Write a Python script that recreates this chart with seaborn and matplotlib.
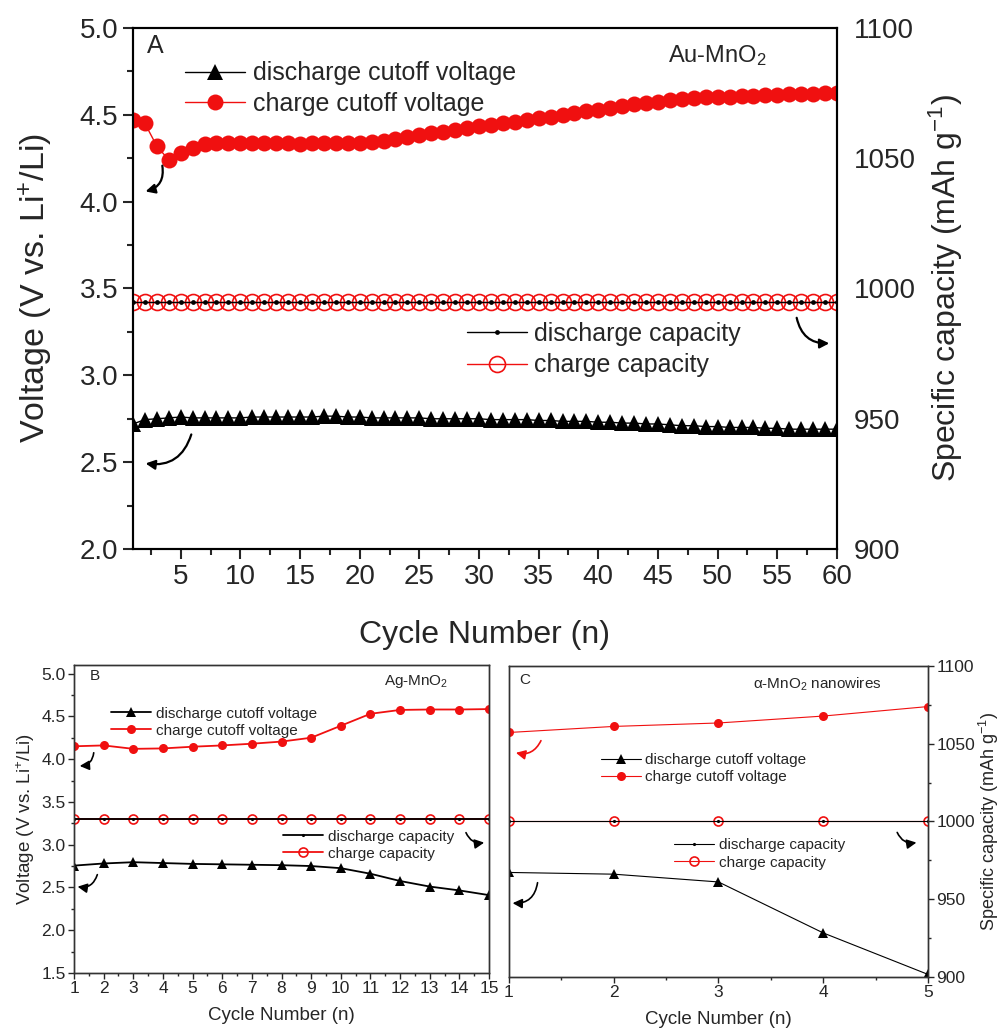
import matplotlib
matplotlib.use("Agg")
import matplotlib.pyplot as plt
from matplotlib.ticker import MultipleLocator
import seaborn as sns

# ---- panel A: Au-MnO2, 60 cycles ----
cycles_a = list(range(1, 61))
charge_cutoff_a = [
    4.47, 4.45, 4.32, 4.24, 4.28, 4.31, 4.33, 4.34, 4.34, 4.34,
    4.34, 4.34, 4.335, 4.335, 4.33, 4.335, 4.335, 4.34, 4.34, 4.34,
    4.345, 4.35, 4.36, 4.37, 4.385, 4.395, 4.40, 4.41, 4.425, 4.435,
    4.44, 4.45, 4.46, 4.47, 4.48, 4.49, 4.50, 4.51, 4.52, 4.53,
    4.54, 4.55, 4.56, 4.57, 4.575, 4.585, 4.59, 4.595, 4.60, 4.60,
    4.605, 4.61, 4.61, 4.615, 4.615, 4.62, 4.62, 4.62, 4.625, 4.625,
]
discharge_cutoff_a = [
    2.72, 2.745, 2.75, 2.755, 2.76, 2.755, 2.755, 2.755, 2.755, 2.755,
    2.76, 2.76, 2.76, 2.76, 2.76, 2.76, 2.765, 2.765, 2.76, 2.76,
    2.755, 2.755, 2.755, 2.755, 2.755, 2.75, 2.75, 2.75, 2.75, 2.75,
    2.745, 2.745, 2.745, 2.745, 2.74, 2.74, 2.735, 2.735, 2.735, 2.73,
    2.73, 2.725, 2.725, 2.72, 2.72, 2.715, 2.71, 2.71, 2.705, 2.705,
    2.70, 2.70, 2.70, 2.695, 2.695, 2.69, 2.69, 2.69, 2.69, 2.69,
]
discharge_capacity_a = [995] * 60
charge_capacity_a = [995] * 60

# ---- panel B: Ag-MnO2, 15 cycles ----
cycles_b = list(range(1, 16))
charge_cutoff_b = [4.15, 4.16, 4.12, 4.125, 4.145, 4.16, 4.18, 4.205, 4.25,
                   4.39, 4.53, 4.575, 4.58, 4.58, 4.585]
discharge_cutoff_b = [2.755, 2.78, 2.795, 2.785, 2.775, 2.77, 2.765, 2.76, 2.75,
                      2.725, 2.66, 2.575, 2.51, 2.465, 2.41]
discharge_capacity_b = [1000] * 15
charge_capacity_b = [1000] * 15

# ---- panel C: alpha-MnO2 nanowires, 5 cycles ----
cycles_c = [1, 2, 3, 4, 5]
charge_cutoff_c = [4.33, 4.40, 4.44, 4.52, 4.63]
discharge_cutoff_c = [2.71, 2.69, 2.60, 2.01, 1.53]
discharge_capacity_c = [1000] * 5
charge_capacity_c = [1000] * 5

RED = "#f01010"

sns.set_theme(style="ticks")
plt.rcParams["font.family"] = ["Liberation Sans", "DejaVu Sans"]
plt.rcParams["mathtext.fontset"] = "custom"
plt.rcParams["mathtext.rm"] = "Liberation Sans"
plt.rcParams["mathtext.it"] = "Liberation Sans:italic"
plt.rcParams["mathtext.default"] = "regular"

fig = plt.figure(figsize=(9.99, 10.32), dpi=100)
ax_a = fig.add_axes([0.1331, 0.4680, 0.7047, 0.5049])
ax_b = fig.add_axes([0.0741, 0.0572, 0.4154, 0.2984])
ax_c = fig.add_axes([0.5095, 0.0533, 0.4194, 0.3014])


def draw_panel(ax, x, charge, discharge, dcap, ccap, ms, lw, dot=0.35):
    """Draw the four series of one panel; returns twin axis and line handles."""
    ax2 = ax.twinx()
    sns.lineplot(x=x, y=discharge, ax=ax, color="black", marker="^", markersize=ms,
                 markeredgewidth=0, linewidth=lw, legend=False)
    h_dv = ax.lines[-1]
    sns.lineplot(x=x, y=charge, ax=ax, color=RED, marker="o", markersize=ms,
                 markeredgewidth=0, linewidth=lw, legend=False)
    h_cv = ax.lines[-1]
    sns.lineplot(x=x, y=ccap, ax=ax2, color=RED, marker="o", markersize=ms,
                 markerfacecolor="none", markeredgecolor=RED, markeredgewidth=1.2,
                 linewidth=lw, legend=False)
    h_cc = ax2.lines[-1]
    sns.lineplot(x=x, y=dcap, ax=ax2, color="black", marker="o", markersize=ms * dot,
                 markeredgewidth=0, linewidth=lw, legend=False)
    h_dc = ax2.lines[-1]
    return ax2, (h_dv, h_cv), (h_dc, h_cc)


def arrow(ax, start, end, rad, color="black", lw=1.6):
    ax.annotate("", xy=end, xytext=start, xycoords="axes fraction",
                textcoords="axes fraction",
                arrowprops=dict(arrowstyle="-|>", color=color, lw=lw,
                                mutation_scale=14,
                                connectionstyle=f"arc3,rad={rad}"))


# ---------------- panel A ----------------
ax2_a, hv, hc = draw_panel(ax_a, cycles_a, charge_cutoff_a, discharge_cutoff_a,
                           discharge_capacity_a, charge_capacity_a, 11.5, 1.0, dot=0.3)
ax_a.set_xlim(1, 60)
ax_a.set_ylim(2.0, 5.0)
ax2_a.set_ylim(900, 1100)
ax_a.xaxis.set_major_locator(MultipleLocator(5))
ax_a.xaxis.set_minor_locator(MultipleLocator(2.5))
ax_a.yaxis.set_major_locator(MultipleLocator(0.5))
ax_a.yaxis.set_minor_locator(MultipleLocator(0.25))
ax2_a.yaxis.set_major_locator(MultipleLocator(50))
ax_a.set_xticks([5, 10, 15, 20, 25, 30, 35, 40, 45, 50, 55, 60])
ax_a.tick_params(axis="both", which="major", labelsize=20, direction="out",
                 length=7, width=1.5, right=False, top=False)
ax_a.tick_params(axis="both", which="minor", direction="out", length=4, width=1.5,
                 right=False, top=False)
ax2_a.tick_params(axis="y", which="both", labelsize=20, length=0, pad=12)
ax_a.set_xlabel("Cycle Number (n)", fontsize=23, labelpad=22)
ax_a.set_ylabel("Voltage (V vs. Li$^{+}$/Li)", fontsize=24.5, labelpad=18)
ax2_a.set_ylabel("Specific capacity (mAh g$^{-1}$)", fontsize=23, labelpad=8)
for a in (ax_a, ax2_a):
    for s in a.spines.values():
        s.set_linewidth(1.5)
        s.set_color("black")
ax_a.text(0.02, 0.965, "A", transform=ax_a.transAxes, fontsize=18,
          ha="left", va="center")
ax_a.text(0.83, 0.948, "Au-MnO$_2$", transform=ax_a.transAxes, fontsize=17,
          ha="center", va="center")
leg1 = ax2_a.legend(hv, ["discharge cutoff voltage", "charge cutoff voltage"],
                    loc="upper left", bbox_to_anchor=(0.06, 0.955), frameon=False,
                    fontsize=18, handlelength=2.4, handletextpad=0.3,
                    labelspacing=0.25, borderaxespad=0)
ax2_a.add_artist(leg1)
ax2_a.legend(hc, ["discharge capacity", "charge capacity"], loc="upper left",
             bbox_to_anchor=(0.46, 0.455), frameon=False, fontsize=18,
             handlelength=2.4, handletextpad=0.3, labelspacing=0.3,
             borderaxespad=0)
arrow(ax_a, (0.041, 0.741), (0.014, 0.685), -0.5)
arrow(ax_a, (0.084, 0.225), (0.014, 0.165), -0.45)
arrow(ax_a, (0.942, 0.449), (0.993, 0.395), 0.45)

# ---------------- panel B ----------------
ax2_b, hv, hc = draw_panel(ax_b, cycles_b, charge_cutoff_b, discharge_cutoff_b,
                           discharge_capacity_b, charge_capacity_b, 6.5, 1.3)
ax_b.set_xlim(1, 15)
ax_b.set_ylim(1.5, 5.1)
ax2_b.set_ylim(900, 1100)
ax_b.set_xticks(cycles_b)
ax_b.xaxis.set_minor_locator(MultipleLocator(0.5))
ax_b.set_yticks([1.5, 2.0, 2.5, 3.0, 3.5, 4.0, 4.5, 5.0])
ax_b.yaxis.set_minor_locator(MultipleLocator(0.25))
ax_b.tick_params(axis="both", which="major", labelsize=12.5, direction="out",
                 length=4, width=1, pad=2)
ax_b.tick_params(axis="both", which="minor", direction="out", length=2.5, width=1)
ax2_b.tick_params(axis="y", which="both", length=0, labelright=False)
ax_b.set_xlabel("Cycle Number (n)", fontsize=13.5, labelpad=8)
ax_b.set_ylabel("Voltage (V vs. Li$^{+}$/Li)", fontsize=13.5, labelpad=3)
for a in (ax_b, ax2_b):
    for s in a.spines.values():
        s.set_linewidth(1.0)
        s.set_color("#333333")
ax_b.text(0.05, 0.965, "B", transform=ax_b.transAxes, fontsize=11,
          ha="center", va="center")
ax_b.text(0.825, 0.945, "Ag-MnO$_2$", transform=ax_b.transAxes, fontsize=11,
          ha="center", va="center")
leg1 = ax2_b.legend(hv, ["discharge cutoff voltage", "charge cutoff voltage"],
                    loc="upper left", bbox_to_anchor=(0.075, 0.885), frameon=False,
                    fontsize=11, handlelength=2.6, handletextpad=0.3,
                    labelspacing=0.2, borderaxespad=0)
ax2_b.add_artist(leg1)
ax2_b.legend(hc, ["discharge capacity", "charge capacity"], loc="upper left",
             bbox_to_anchor=(0.49, 0.485), frameon=False, fontsize=11,
             handlelength=2.6, handletextpad=0.3, labelspacing=0.2,
             borderaxespad=0)
arrow(ax_b, (0.048, 0.724), (0.007, 0.672), -0.5, lw=1.2)
arrow(ax_b, (0.058, 0.328), (0.002, 0.282), -0.5, lw=1.2)
arrow(ax_b, (0.942, 0.464), (0.995, 0.425), 0.45, lw=1.2)

# ---------------- panel C ----------------
ax2_c, hv, hc = draw_panel(ax_c, cycles_c, charge_cutoff_c, discharge_cutoff_c,
                           discharge_capacity_c, charge_capacity_c, 6.5, 0.8)
ax_c.set_xlim(1, 5)
ax_c.set_ylim(1.5, 5.1)
ax2_c.set_ylim(900, 1100)
ax_c.set_xticks(cycles_c)
ax_c.xaxis.set_minor_locator(MultipleLocator(0.5))
ax_c.tick_params(axis="y", which="both", left=False, labelleft=False)
ax_c.tick_params(axis="x", which="major", labelsize=12.5, direction="out",
                 length=4, width=1, pad=2)
ax_c.tick_params(axis="x", which="minor", direction="out", length=2.5, width=1)
ax2_c.yaxis.set_major_locator(MultipleLocator(50))
ax2_c.yaxis.set_minor_locator(MultipleLocator(25))
ax2_c.tick_params(axis="y", which="major", labelsize=12.5, direction="out",
                  length=4, width=1, pad=2)
ax2_c.tick_params(axis="y", which="minor", direction="out", length=2.5, width=1)
ax_c.set_xlabel("Cycle Number (n)", fontsize=13.5, labelpad=8)
ax2_c.set_ylabel("Specific capacity (mAh g$^{-1}$)", fontsize=13, labelpad=1)
for a in (ax_c, ax2_c):
    for s in a.spines.values():
        s.set_linewidth(1.0)
        s.set_color("#333333")
ax_c.text(0.038, 0.955, "C", transform=ax_c.transAxes, fontsize=11,
          ha="center", va="center")
ax_c.text(0.735, 0.942, r"$\alpha$-MnO$_2$ nanowires", transform=ax_c.transAxes,
          fontsize=11, ha="center", va="center")
leg1 = ax2_c.legend(hv, ["discharge cutoff voltage", "charge cutoff voltage"],
                    loc="upper left", bbox_to_anchor=(0.205, 0.74), frameon=False,
                    fontsize=11, handlelength=2.6, handletextpad=0.3,
                    labelspacing=0.2, borderaxespad=0)
ax2_c.add_artist(leg1)
ax2_c.legend(hc, ["discharge capacity", "charge capacity"], loc="upper left",
             bbox_to_anchor=(0.38, 0.465), frameon=False, fontsize=11,
             handlelength=2.6, handletextpad=0.3, labelspacing=0.2,
             borderaxespad=0)
arrow(ax_c, (0.079, 0.768), (0.010, 0.723), -0.45, color=RED, lw=1.2)
arrow(ax_c, (0.069, 0.312), (0.002, 0.238), -0.5, lw=1.2)
arrow(ax_c, (0.924, 0.473), (0.979, 0.434), 0.45, lw=1.2)

fig.savefig("out.png", dpi=100)
